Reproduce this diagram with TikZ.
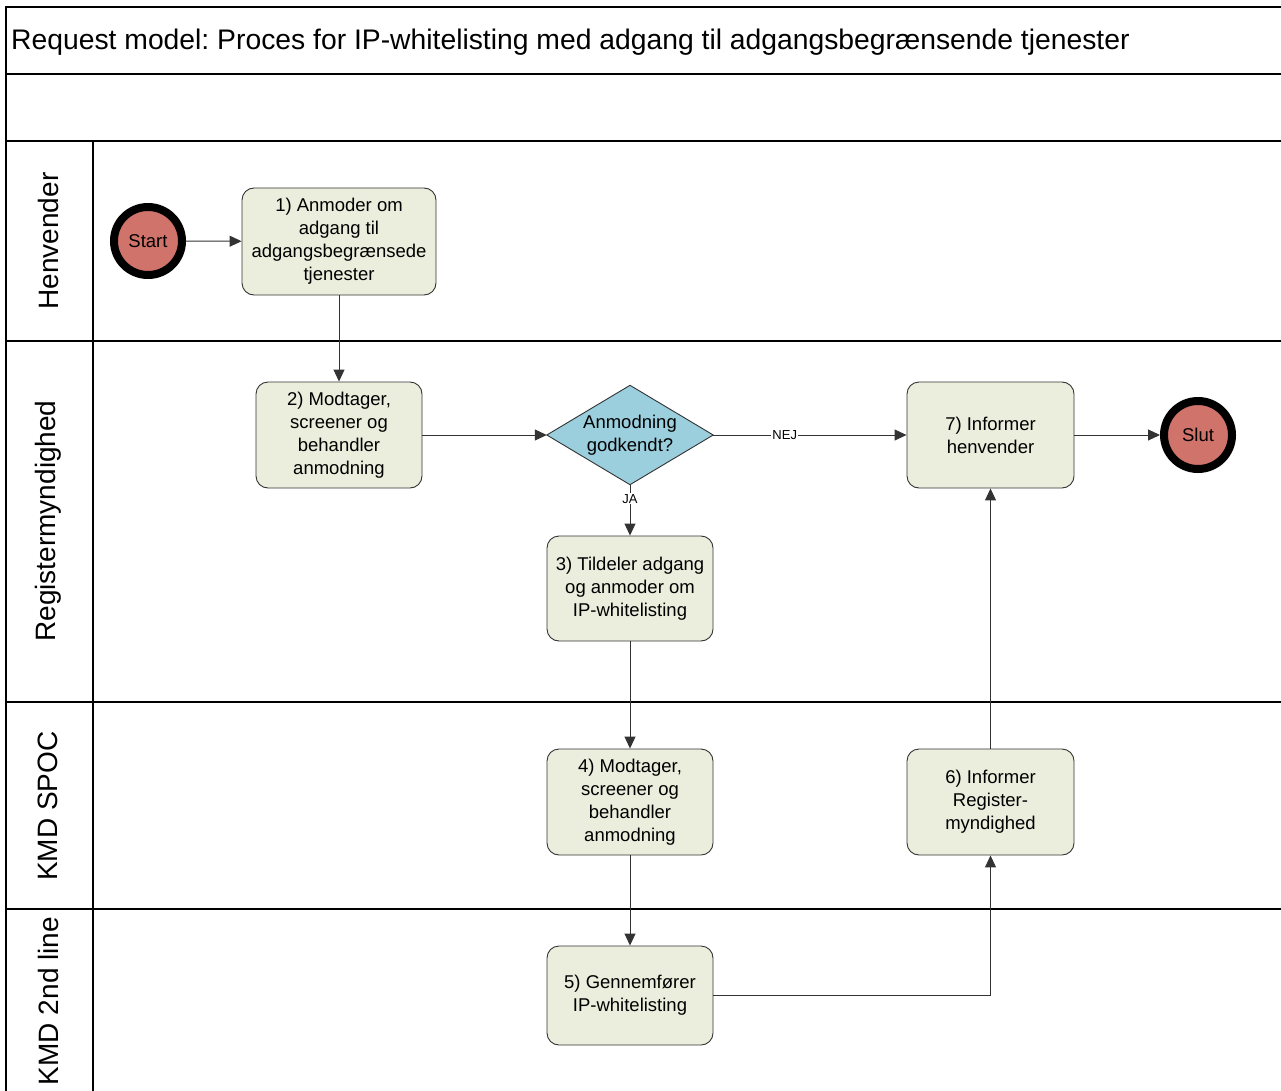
\documentclass[tikz,border=0pt]{standalone}
\usepackage{fontspec}
\setmainfont{Liberation Sans}
\usetikzlibrary{arrows.meta}
\definecolor{boxfill}{HTML}{EBEEDD}
\definecolor{decfill}{HTML}{9BCFDD}
\definecolor{evfill}{HTML}{D0736B}
\definecolor{conn}{HTML}{333333}
\begin{document}
\frenchspacing
\begin{tikzpicture}[x=1pt,y=-1pt,
  lane/.style={line width=1.6pt,draw=black},
  task/.style={draw=conn,fill=boxfill,rounded corners=12pt,line width=0.9pt,
    align=center,inner sep=2pt,font=\fontsize{18.5}{23}\selectfont},
  event/.style={circle,draw=black,line width=8pt,fill=evfill,minimum size=68pt,
    inner sep=0pt,font=\fontsize{18.5}{23}\selectfont},
  flow/.style={draw=conn,line width=1pt,-{Triangle[length=12pt,width=11pt]}},
  lbl/.style={fill=white,inner sep=1pt,font=\fontsize{13}{15}\selectfont},
  lanetitle/.style={rotate=90,font=\fontsize{28}{30}\selectfont,inner sep=0pt}]
\useasboundingbox (0,0) rectangle (1281,1091);
\clip (0,0) rectangle (1281,1091);
\fill[white] (0,0) rectangle (1281,1091);
% pool and lanes
\draw[lane] (1300,7) -- (6,7) -- (6,1100);
\draw[lane] (6,74) -- (1300,74);
\draw[lane] (6,141) -- (1300,141);
\draw[lane] (6,341) -- (1300,341);
\draw[lane] (6,702) -- (1300,702);
\draw[lane] (6,909) -- (1300,909);
\draw[lane] (93,141) -- (93,1100);
\node[anchor=base west,font=\fontsize{28.3}{31}\selectfont,inner sep=0pt] (title) at (11,50)
  {Request model: Proces for IP-whitelisting med adgang til adgangsbegrænsende tjenester};
\node[lanetitle] (l1) at (48,241) {Henvender};
\node[lanetitle] (l2) at (48,521) {Registermyndighed};
\node[lanetitle] (l3) at (48,806) {KMD SPOC};
\node[lanetitle] (l4) at (48,1001) {KMD 2nd line};
% nodes
\node[event] (start) at (148,241) {Start};
\node[task,minimum width=194pt,minimum height=107pt] (b1) at (339,241.5)
  {1) Anmoder om\\adgang til\\adgangsbegrænsede\\tjenester};
\node[task,minimum width=166pt,minimum height=106pt] (b2) at (339,435)
  {2) Modtager,\\screener og\\behandler\\anmodning};
\node[minimum width=166pt,minimum height=99pt,inner sep=0pt] (d) at (630,435) {};
\draw[draw=conn,line width=0.9pt,fill=decfill] (d.west) -- (d.north) -- (d.east) -- (d.south) -- cycle;
\node[align=center,font=\fontsize{18.5}{23}\selectfont] (dt) at (d.center) {Anmodning\\godkendt?};
\node[task,minimum width=167pt,minimum height=106pt] (b7) at (990.5,435)
  {7) Informer\\henvender};
\node[event] (slut) at (1198,435) {Slut};
\node[task,minimum width=166pt,minimum height=105pt] (b3) at (630,588.5)
  {3) Tildeler adgang\\og anmoder om\\IP-whitelisting};
\node[task,minimum width=166pt,minimum height=106pt] (b4) at (630,802)
  {4) Modtager,\\screener og\\behandler\\anmodning};
\node[task,minimum width=167pt,minimum height=106pt] (b6) at (990.5,802)
  {6) Informer\\Register-\\myndighed};
\node[task,minimum width=166pt,minimum height=99pt] (b5) at (630,995.5)
  {5) Gennemfører\\IP-whitelisting};
% connectors
\draw[flow] (start) -- (b1);
\draw[flow] (b1.south) -- (b2.north);
\draw[flow] (b2.east) -- (d.west);
\draw[flow] (d.east) -- node[lbl,pos=0.37] (nej) {NEJ} (b7.west);
\draw[flow] (b7.east) -- (slut);
\draw[flow] (d.south) -- node[lbl,pos=0.28] (ja) {JA} (b3.north);
\draw[flow] (b3.south) -- (b4.north);
\draw[flow] (b4.south) -- (b5.north);
\draw[flow] (b5.east) -| (b6.south);
\draw[flow] (b6.north) -- (b7.south);
\end{tikzpicture}
\end{document}
